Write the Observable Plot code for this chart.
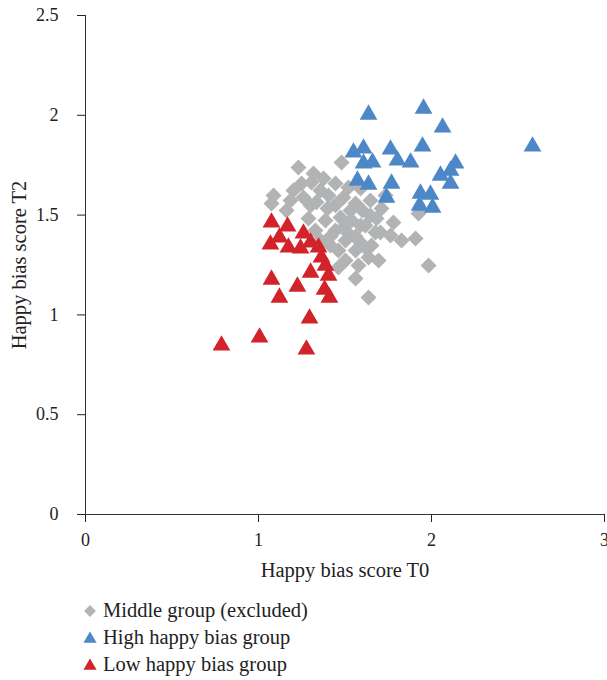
<!DOCTYPE html>
<html>
<head>
<meta charset="utf-8">
<script src="https://cdn.jsdelivr.net/npm/d3@7"></script>
<script src="https://cdn.jsdelivr.net/npm/@observablehq/plot@0.6"></script>
<style>
  html, body { margin: 0; padding: 0; background: #fff; overflow: hidden; }
  #chart { width: 607px; }
  .legend { font-family: "Liberation Serif", "DejaVu Serif", serif; font-size: 20.5px; color: #222; margin-top: 7px; padding-left: 81px; }
  .legend .row { height: 27px; display: flex; align-items: center; }
  .legend svg { margin-right: 4px; }
</style>
</head>
<body>
<div id="chart"></div>
<script>
// Middle group (excluded) — grey diamonds
const middleX = [1.231,1.318,1.376,1.480,1.249,1.306,1.445,1.520,1.087,1.075,1.162,1.260,1.335,1.405,1.491,1.561,1.647,1.711,1.780,1.289,1.387,1.474,1.538,1.618,1.682,1.445,1.520,1.578,1.653,1.827,1.908,1.462,1.561,1.636,1.503,1.578,1.462,1.561,1.636,1.983,1.399,1.202,1.358,1.416,1.601,1.734,1.590,1.676,1.763,1.503,1.694,1.329,1.925,1.358,1.532,1.445,1.590,1.503,1.647,1.416,1.561,1.618,1.705,1.185,1.301];
const middleY = [1.738,1.708,1.683,1.764,1.658,1.663,1.658,1.638,1.598,1.558,1.523,1.588,1.565,1.598,1.588,1.558,1.573,1.533,1.463,1.483,1.473,1.488,1.473,1.448,1.483,1.423,1.408,1.373,1.348,1.373,1.383,1.323,1.323,1.288,1.273,1.248,1.237,1.182,1.087,1.248,1.533,1.623,1.373,1.348,1.523,1.598,1.633,1.413,1.398,1.373,1.273,1.423,1.508,1.623,1.523,1.550,1.448,1.448,1.498,1.393,1.393,1.338,1.413,1.573,1.548];
// High happy bias group — blue triangles
const highX = [1.636,1.954,2.064,2.584,1.549,1.607,1.607,1.659,1.763,1.803,1.879,1.948,2.139,2.110,2.052,2.110,1.572,1.636,1.769,1.740,1.936,1.994,1.931,2.006];
const highY = [2.004,2.034,1.939,1.844,1.814,1.834,1.759,1.764,1.829,1.774,1.764,1.844,1.759,1.723,1.698,1.658,1.673,1.653,1.658,1.588,1.608,1.603,1.548,1.538];
// Low happy bias group — red triangles
const lowX = [1.075,1.168,1.121,1.069,1.173,1.260,1.301,1.243,1.347,1.364,1.387,1.405,1.301,1.075,1.225,1.382,1.410,1.121,1.295,1.006,0.786,1.277];
const lowY = [1.463,1.443,1.388,1.353,1.338,1.408,1.363,1.333,1.338,1.288,1.247,1.197,1.212,1.177,1.142,1.127,1.087,1.087,0.982,0.887,0.847,0.827];

const yTicks = [0, 0.5, 1, 1.5, 2, 2.5];
const xTicks = [0, 1, 2, 3];
const groups = ["Middle group (excluded)", "High happy bias group", "Low happy bias group"];
const colors = ["#b1b3b4", "#4d87c7", "#d2232a"];

const toRows = (xs, ys) => xs.map((x, i) => ({x, y: ys[i]}));
const middle = toRows(middleX, middleY);
const high = toRows(highX, highY);
const low = toRows(lowX, lowY);

const plot = Plot.plot({
  width: 607,
  height: 590,
  marginLeft: 85,
  marginRight: 3,
  marginTop: 15,
  marginBottom: 76,
  style: {fontFamily: "'Liberation Serif', 'DejaVu Serif', serif", fontSize: "17.5px", color: "#222", overflow: "visible"},
  x: {domain: [0, 3]},
  y: {domain: [0, 2.5]},
  marks: [
    Plot.axisX({ticks: xTicks, tickSize: 8, tickPadding: 11, tickFormat: d => String(d), label: null, fontSize: 18}),
    Plot.axisX({ticks: [], tickSize: 0, label: "Happy bias score T0", labelAnchor: "center", labelOffset: 62, labelArrow: "none", fontSize: 20.5}),
    Plot.axisY({ticks: yTicks, tickSize: 8, tickPadding: 19, tickFormat: d => String(d), label: null, fontSize: 18}),
    Plot.axisY({ticks: [], tickSize: 0, label: "Happy bias score T2", labelAnchor: "center", labelOffset: 74, labelArrow: "none", fontSize: 20.5}),
    Plot.ruleY([0], {stroke: "#333"}),
    Plot.ruleX([0], {stroke: "#333"}),
    Plot.dot(middle, {x: "x", y: "y", symbol: "square", rotate: 45, r: 6.4, fill: colors[0], stroke: "none"}),
    Plot.dot(high, {x: "x", y: "y", symbol: "triangle", r: 6.6, fill: colors[1], stroke: "none"}),
    Plot.dot(low, {x: "x", y: "y", symbol: "triangle", r: 6.6, fill: colors[2], stroke: "none"})
  ]
});
document.getElementById("chart").appendChild(plot);

// Legend
const legend = document.createElement("div");
legend.className = "legend";
const symPaths = [
  d3.symbol(d3.symbolSquare, 70)(),
  d3.symbol(d3.symbolTriangle, 75)(),
  d3.symbol(d3.symbolTriangle, 75)()
];
groups.forEach((g, i) => {
  const row = document.createElement("div");
  row.className = "row";
  const rot = i === 0 ? " rotate(45)" : "";
  row.innerHTML = `<svg width="18" height="18"><path d="${symPaths[i]}" transform="translate(9,${i === 0 ? 9 : 10})${rot}" fill="${colors[i]}"/></svg><span>${g}</span>`;
  legend.appendChild(row);
});
document.getElementById("chart").appendChild(legend);
</script>
</body>
</html>
